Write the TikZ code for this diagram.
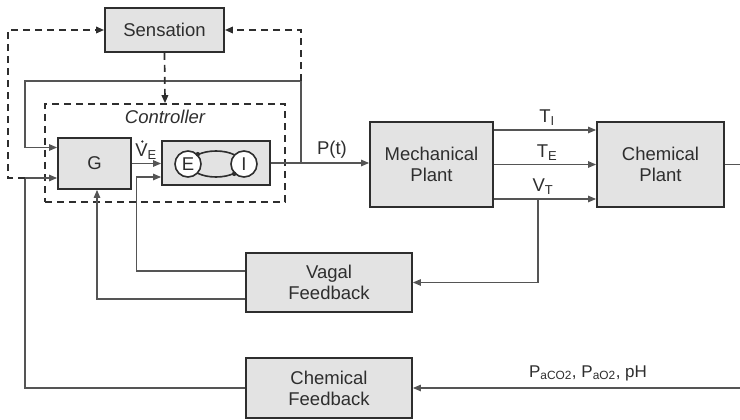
\documentclass[tikz,border=0pt]{standalone}
\usepackage{fontspec}
\setmainfont{Liberation Sans}
\usetikzlibrary{arrows.meta,positioning,calc}
\tikzset{every picture/.style={line width=1.1pt}}
\definecolor{boxgray}{HTML}{E3E3E3}
\definecolor{inkgray}{HTML}{2E2E2E}
\definecolor{wiregray}{HTML}{555555}
\tikzset{
  blockbox/.style={draw=inkgray, fill=boxgray, line width=1.8pt, align=center, inner sep=0pt},
  wire/.style={draw=wiregray, line width=1.2pt},
  sig/.style={wire, -{Triangle[length=8pt,width=6.5pt]}},
  dashwire/.style={draw=inkgray, line width=1.7pt, dash pattern=on 7pt off 5pt},
  dashsig/.style={dashwire, -{Triangle[length=8pt,width=6.5pt]}},
  ballnode/.style={circle, draw=inkgray, fill=white, line width=1.6pt, minimum size=26pt, inner sep=0pt}
}

\begin{document}
\begin{tikzpicture}[x=1pt,y=-1pt,font=\fontsize{18.5}{21}\selectfont,text=inkgray]
    \useasboundingbox (0,0) rectangle (740,420);

    % Controller frame and blocks
    \node[draw=inkgray, line width=1.6pt, dash pattern=on 7pt off 5pt, minimum width=240pt, minimum height=98pt] (ctrl) at (165,153) {};
    \node[font=\fontsize{18.5}{21}\selectfont\itshape, inner sep=1pt] (ctrllabel) at (165,117) {Controller};
    \node[blockbox, minimum width=119pt, minimum height=44pt] (sens) at (164.5,30) {Sensation};
    \node[blockbox, minimum width=73pt, minimum height=51pt] (g) at (94.5,163.5) {G};
    \node[blockbox, minimum width=108pt, minimum height=44pt] (ei) at (216,163) {};
    \node[blockbox, minimum width=123pt, minimum height=85pt] (mech) at (431.5,164.5) {Mechanical\\Plant};
    \node[blockbox, minimum width=127pt, minimum height=85pt] (chem) at (660.5,164.5) {Chemical\\Plant};
    \node[blockbox, minimum width=166pt, minimum height=59pt] (vfb) at (329,282.5) {Vagal\\Feedback};
    \node[blockbox, minimum width=166pt, minimum height=60pt] (cfb) at (329,388) {Chemical\\Feedback};

    % E-I oscillator
    \draw[inkgray, line width=1.6pt] (216,164) ellipse (26 and 13);
    \node[ballnode] (ecirc) at (188,164) {E};
    \node[ballnode] (icirc) at (244,164) {I};
    \fill[inkgray] (ecirc.45) circle (2.3);
    \fill[inkgray] (icirc.225) circle (2.3);

    % junctions
    \coordinate (ptap) at (301,163);
    \coordinate (ptop) at (301,81);
    \coordinate (ltop) at (25,81);
    \coordinate (ljoin) at (25,178);
    \coordinate (lfar) at (8,178);
    \coordinate (vtt) at (538,199);
    \coordinate (redge) at (740,164.5);
    \coordinate (bedge) at (740,388);

    % forward path
    \draw[sig] (g.east) -- (g.east -| ei.west);
    \draw[sig] (ei.east) -- (ei.east -| mech.west);
    \foreach \dy in {34.5,0,-34.5}
        \draw[sig] ([yshift=\dy pt]mech.east) -- ([yshift=\dy pt]chem.west);
    \draw[wire] (chem.east) -- (redge);

    % feedback paths
    \draw[sig] (ptap) -- (ptop) -- (ltop) |- ([yshift=16pt]g.west);
    \draw[sig] (vtt) |- (vfb.east);
    \draw[sig] ([yshift=11.5pt]vfb.west) -| ([xshift=-25pt,yshift=-14pt]ei.west) -- ([yshift=-14pt]ei.west);
    \draw[sig] ([yshift=-16.5pt]vfb.west) -| ([xshift=2.5pt]g.south);
    \draw[sig] (bedge) -- (cfb.east);
    \draw[sig] (cfb.west) -| (ljoin) -- (ljoin -| g.west);

    % sensation (dashed)
    \draw[dashsig] (ptop) |- (sens.east);
    \draw[dashsig] (ljoin) -- (lfar) |- (sens.west);
    \draw[dashsig] (sens.south) -- (ctrl.north);

    % labels
    \node[inner sep=1pt] (velabel) at (146,152) {V\textsubscript{E}};
    \fill[inkgray] (142.3,141.5) circle (1.3); % flow dot over V
    \node (ptlabel) at (332,150) {P(t)};
    \node (tilabel) at (547,118) {T\textsubscript{I}};
    \node (telabel) at (547,153) {T\textsubscript{E}};
    \node (vtlabel) at (543,187) {V\textsubscript{T}};
    \node[font=\fontsize{17}{20}\selectfont] (gaslabel) at (588,373) {P\textsubscript{aCO2}, P\textsubscript{aO2}, pH};
\end{tikzpicture}
\end{document}
